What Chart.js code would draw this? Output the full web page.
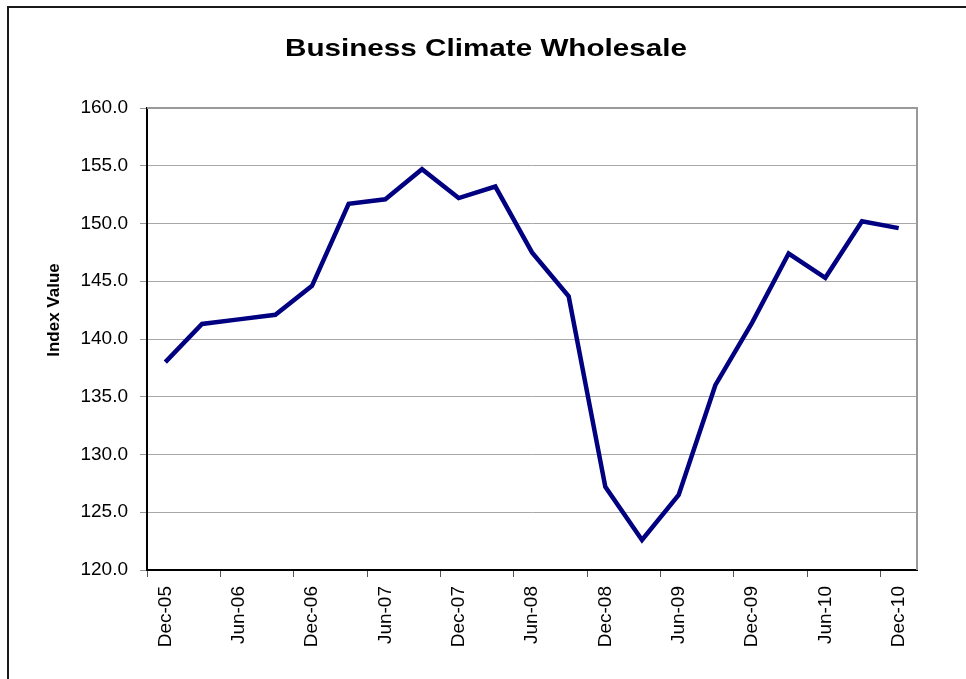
<!DOCTYPE html>
<html>
<head>
<meta charset="utf-8">
<script src="https://cdn.jsdelivr.net/npm/chart.js@4"></script>
<style>
  html, body { margin: 0; padding: 0; background: #fff; }
  #wrap { position: relative; width: 966px; height: 679px; }
</style>
</head>
<body>
<div id="wrap"><canvas id="lineChart" width="966" height="679"></canvas></div>
<script>
const categories = ['Dec-05', 'Mar-06', 'Jun-06', 'Sep-06', 'Dec-06', 'Mar-07', 'Jun-07', 'Sep-07',
  'Dec-07', 'Mar-08', 'Jun-08', 'Sep-08', 'Dec-08', 'Mar-09', 'Jun-09', 'Sep-09',
  'Dec-09', 'Mar-10', 'Jun-10', 'Sep-10', 'Dec-10'];
const indexValues = [138.0, 141.3, 141.7, 142.1, 144.6, 151.7, 152.1, 154.7, 152.2, 153.2, 147.5,
  143.7, 127.2, 122.6, 126.5, 136.0, 141.4, 147.4, 145.3, 150.2, 149.6];
const yMin = 120;
const yMax = 160;
const yStep = 5;

const chartTitle = 'Business Climate Wholesale';
const yTitle = 'Index Value';

const FONT = "'Liberation Sans', Arial, sans-serif";

// outer frame, plot box edges, chart title and the rotated y title
const decor = {
  id: 'decor',
  beforeDraw(chart) {
    const c = chart.ctx;
    c.save();
    c.fillStyle = '#fff';
    c.fillRect(0, 0, chart.width, chart.height);
    c.strokeStyle = '#1a1a1a';
    c.lineWidth = 2;
    c.beginPath();
    c.moveTo(8, chart.height + 5);
    c.lineTo(8, 7);
    c.lineTo(chart.width + 5, 7);
    c.stroke();
    c.restore();
  },
  beforeDatasetsDraw(chart) {
    const a = chart.chartArea;
    const c = chart.ctx;
    c.save();
    c.strokeStyle = '#999';
    c.lineWidth = 2;
    c.beginPath();
    c.moveTo(a.left, a.top);
    c.lineTo(a.right, a.top);
    c.lineTo(a.right, a.bottom);
    c.stroke();
    c.restore();
  },
  afterDraw(chart) {
    const a = chart.chartArea;
    const c = chart.ctx;
    c.save();
    // title is a bit wider than the font would give, so stretch it
    c.font = 'bold 24px ' + FONT;
    c.fillStyle = '#000';
    c.textAlign = 'center';
    c.textBaseline = 'middle';
    const w = c.measureText(chartTitle).width;
    c.translate(486, 49);
    c.scale(402 / w, 1);
    c.fillText(chartTitle, 0, 0);
    c.restore();

    c.save();
    c.translate(54, (a.top + a.bottom) / 2 - 29);
    c.rotate(-Math.PI / 2);
    c.font = 'bold 17px ' + FONT;
    c.fillStyle = '#000';
    c.textAlign = 'center';
    c.textBaseline = 'middle';
    c.fillText(yTitle, 0, 0);
    c.restore();
  }
};

new Chart(document.getElementById('lineChart'), {
  type: 'line',
  data: {
    labels: categories,
    datasets: [
    {
      label: yTitle,
      data: indexValues,
      borderColor: '#000080',
      borderWidth: 4.5,
      pointRadius: 0,
      tension: 0,
      fill: false
    }
    ]
  },
  options: {
    responsive: false,
    animation: false,
    layout: { padding: { left: 0, right: 49, top: 108, bottom: 0 } },
    plugins: {
      legend: { display: false },
      tooltip: { enabled: false },
      title: { display: false }
    },
    scales: {
      x: {
        offset: true,
        afterFit(scale) { scale.height = 109; },
        border: { display: true, color: '#000', width: 2 },
        grid: {
          offset: true,
          drawOnChartArea: false,
          drawTicks: true,
          tickLength: 7,
          color: (ctx) => (ctx.index !== undefined && ctx.index % 2 === 0 ? '#555' : 'rgba(0,0,0,0)')
        },
        ticks: {
          autoSkip: false,
          minRotation: 90,
          maxRotation: 90,
          padding: 9,
          color: '#000',
          font: { family: FONT, size: 19 },
          callback(val, i) { return i % 2 === 0 ? categories[i] : ''; }
        }
      },
      y: {
        min: yMin,
        max: yMax,
        afterFit(scale) { scale.width = 147; },
        border: { display: true, color: '#000', width: 2 },
        grid: {
          color: '#a8a8a8',
          lineWidth: 1,
          tickLength: 7,
          tickColor: '#999'
        },
        ticks: {
          stepSize: yStep,
          padding: 12,
          color: '#000',
          font: { family: FONT, size: 19 },
          callback(v) { return Number(v).toFixed(1); }
        }
      }
    }
  },
  plugins: [decor]
});
</script>
</body>
</html>
